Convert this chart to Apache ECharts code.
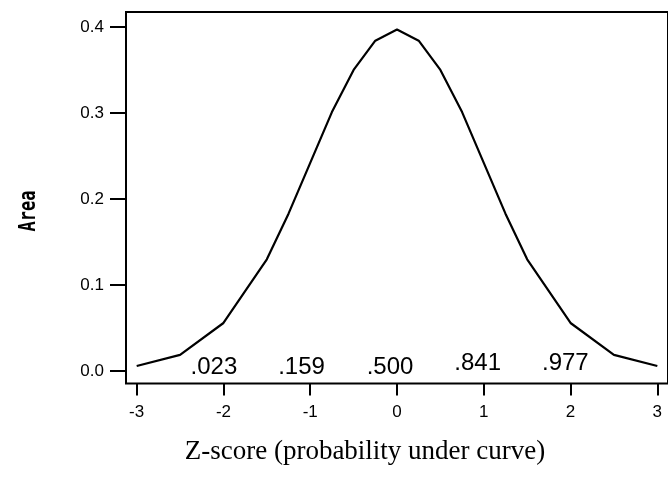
<!DOCTYPE html>
<html>
<head>
<meta charset="utf-8">
<script src="https://cdn.jsdelivr.net/npm/echarts@6/dist/echarts.min.js"></script>
<style>
html,body{margin:0;padding:0;background:#fff;}
#chart{width:668px;height:482px;}
</style>
</head>
<body>
<div id="chart"></div>
<script>
// z-scores of the plotted vertices
var zValues = [-3, -2.5, -2, -1.5, -1.25, -1, -0.75, -0.5, -0.25, 0, 0.25, 0.5, 0.75, 1, 1.25, 1.5, 2, 2.5, 3];
// area (density)
var areaValues = [0.006, 0.019, 0.056, 0.130, 0.183, 0.242, 0.301, 0.350, 0.384, 0.397, 0.384, 0.350, 0.301, 0.242, 0.183, 0.130, 0.056, 0.019, 0.006];
// tick labels
var xTicks = [-3, -2, -1, 0, 1, 2, 3];
var yTicks = [0, 0.1, 0.2, 0.3, 0.4];
// cumulative probability annotations (text and its anchor in data units)
var probLabels = ['.023', '.159', '.500', '.841', '.977'];
var probX = [-2.11, -1.10, -0.08, 0.93, 1.94];
var probY = [0.005, 0.005, 0.005, 0.009, 0.009];

var chart = echarts.init(document.getElementById('chart'), null, {renderer: 'canvas'});

var lineData = zValues.map(function (z, i) { return [z, areaValues[i]]; });
var labelData = probX.map(function (z, i) { return {value: [z, probY[i]], name: probLabels[i]}; });

var option = {
  backgroundColor: '#ffffff',
  animation: false,
  grid: {
    left: 126, top: 12, width: 550, height: 371.5,
    show: true, borderColor: '#000', borderWidth: 2, backgroundColor: 'transparent'
  },
  xAxis: {
    type: 'value', min: -3.123, max: 3.123,
    splitLine: {show: false},
    axisLine: {show: false, onZero: false},
    axisTick: {show: true, customValues: xTicks, length: 12, lineStyle: {color: '#000', width: 2}},
    axisLabel: {
      show: true, customValues: xTicks, margin: 20,
      color: '#000', fontFamily: 'Liberation Sans, Arial, sans-serif', fontSize: 17,
      formatter: function (v) { return String(v); }
    }
  },
  yAxis: {
    type: 'value', min: -0.0143, max: 0.4173,
    splitLine: {show: false},
    axisLine: {show: false, onZero: false},
    axisTick: {show: true, customValues: yTicks, length: 16, lineStyle: {color: '#000', width: 2}},
    axisLabel: {
      show: true, customValues: yTicks, margin: 22,
      color: '#000', fontFamily: 'Liberation Sans, Arial, sans-serif', fontSize: 17,
      formatter: function (v) { return v.toFixed(1); }
    }
  },
  series: [
    {
      type: 'line', data: lineData, showSymbol: false, symbol: 'none',
      lineStyle: {color: '#000', width: 2.2}, z: 3
    },
    {
      type: 'scatter', data: labelData, symbolSize: 0,
      itemStyle: {opacity: 1, color: '#000'},
      label: {
        show: true, position: 'inside',
        formatter: function (p) { return p.name; },
        color: '#000', fontFamily: '"Liberation Sans", Arial, sans-serif', fontSize: 24
      }
    }
  ],
  graphic: [
    {
      type: 'text', x: 365, y: 452,
      style: {
        text: 'Z-score (probability under curve)',
        fill: '#000', font: '27px "Liberation Serif", "Times New Roman", serif',
        align: 'center', verticalAlign: 'middle'
      }
    },
    {
      type: 'text', x: 29, y: 211, rotation: Math.PI / 2, scaleY: 1.35,
      style: {
        text: 'Area',
        fill: '#000', font: 'bold 17px "DejaVu Sans Mono", "Liberation Mono", monospace',
        align: 'center', verticalAlign: 'middle'
      }
    }
  ]
};
chart.setOption(option);
</script>
</body>
</html>
